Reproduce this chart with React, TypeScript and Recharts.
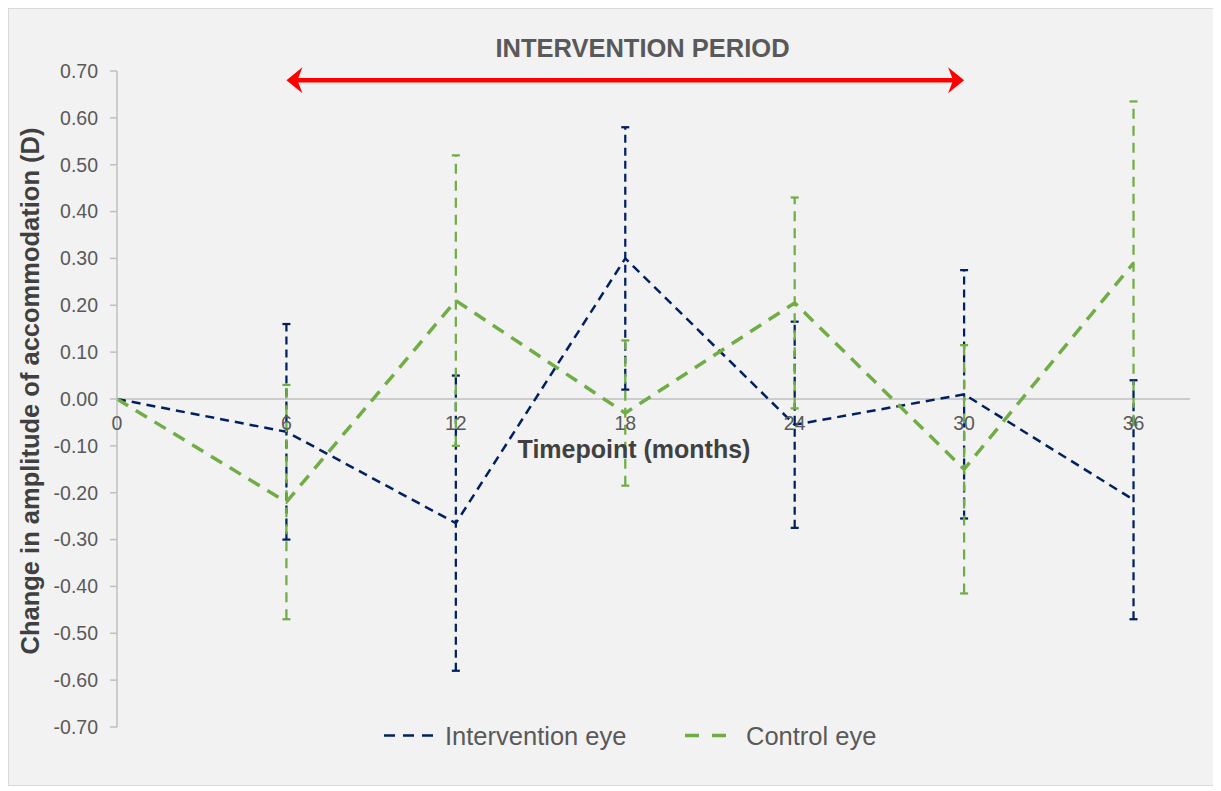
import React from "react"
import { LineChart, Line, XAxis, YAxis, ErrorBar, ReferenceLine } from "recharts"

const months = [0, 6, 12, 18, 24, 30, 36]
const interventionEye = [0, -0.07, -0.265, 0.3, -0.055, 0.01, -0.215]
const interventionErr = [null, 0.23, 0.315, 0.28, 0.22, 0.265, 0.255]
const controlEye = [0, -0.22, 0.21, -0.03, 0.205, -0.15, 0.29]
const controlErr = [null, 0.25, 0.31, 0.155, 0.225, 0.265, 0.345]
const yTicks = [-0.7, -0.6, -0.5, -0.4, -0.3, -0.2, -0.1, 0, 0.1, 0.2, 0.3, 0.4, 0.5, 0.6, 0.7]

const data = months.map((m, i) => ({
  month: m,
  intervention: interventionEye[i],
  interventionErr: interventionErr[i],
  control: controlEye[i],
  controlErr: controlErr[i],
}))

const W = 1207
const H = 778
const MARGIN = { top: 63, right: 25, bottom: 0, left: 0 }
const X_AXIS_H = 59
const PLOT_H = H - MARGIN.top - MARGIN.bottom - X_AXIS_H

const FONT = "'Liberation Sans', Arial, sans-serif"
const NAVY = "#002060"
const GREEN = "#70ad47"
const AXIS = "#bfbfbf"

// x tick labels sit just under the zero line, not at the bottom of the plot
const XTick = (props: any) => {
  const { x, y, payload } = props
  return (
    <text x={x} y={y - PLOT_H / 2 + 31} textAnchor="middle" fill="#595959" fontSize={19.5} fontFamily={FONT}>
      {payload.value}
    </text>
  )
}

const ArrowShape = (props: any) => {
  const { x1, y1, x2 } = props
  const y = y1
  return (
    <g>
      <line x1={x1 + 10} y1={y} x2={x2 - 10} y2={y} stroke="#ff0000" strokeWidth={4.5} />
      <polygon points={`${x1},${y} ${x1 + 16},${y - 13} ${x1 + 11},${y} ${x1 + 16},${y + 13}`} fill="#ff0000" />
      <polygon points={`${x2},${y} ${x2 - 16},${y - 13} ${x2 - 11},${y} ${x2 - 16},${y + 13}`} fill="#ff0000" />
    </g>
  )
}

export default function App() {
  return (
    <div
      style={{
        position: "relative",
        width: W,
        height: H,
        background: "#f2f2f2",
        boxShadow: "inset 0 0 0 1px #d9d9d9",
        fontFamily: FONT,
      }}
    >
      <LineChart width={W} height={H} data={data} margin={MARGIN}>
        <XAxis
          dataKey="month"
          type="number"
          domain={[0, 38]}
          ticks={months}
          interval={0}
          axisLine={false}
          tickLine={false}
          tickSize={0}
          tickMargin={0}
          height={X_AXIS_H}
          tick={XTick}
        />
        <YAxis
          type="number"
          domain={[-0.7, 0.7]}
          ticks={yTicks}
          interval={0}
          width={109}
          tickFormatter={(v: number) => v.toFixed(2)}
          tick={{ fill: "#595959", fontSize: 19.5, fontFamily: FONT }}
          axisLine={{ stroke: AXIS, strokeWidth: 1.5 }}
          tickLine={{ stroke: AXIS, strokeWidth: 1.5 }}
          tickSize={7}
          tickMargin={12}
        />
        <ReferenceLine y={0} stroke={AXIS} strokeWidth={1.5} />
        <ReferenceLine
          segment={[
            { x: 6, y: 0.68 },
            { x: 30, y: 0.68 },
          ]}
          shape={ArrowShape}
        />
        <Line
          type="linear"
          dataKey="intervention"
          stroke={NAVY}
          strokeWidth={2.5}
          strokeDasharray="9 6"
          dot={false}
          activeDot={false}
          isAnimationActive={false}
        >
          <ErrorBar dataKey="interventionErr" direction="y" width={4} stroke={NAVY} strokeWidth={2.25} strokeDasharray="8 5" />
        </Line>
        <Line
          type="linear"
          dataKey="control"
          stroke={GREEN}
          strokeWidth={3.5}
          strokeDasharray="13 9"
          dot={false}
          activeDot={false}
          isAnimationActive={false}
        >
          <ErrorBar dataKey="controlErr" direction="y" width={4} stroke={GREEN} strokeWidth={2.25} strokeDasharray="10 7" />
        </Line>
      </LineChart>

      <svg width={W} height={H} style={{ position: "absolute", left: 0, top: 0, pointerEvents: "none" }}>
        <text x={634.5} y={49} textAnchor="middle" fontWeight="bold" fontSize={25.5} fill="#595959" fontFamily={FONT}>
          INTERVENTION PERIOD
        </text>
        <text x={626} y={450} textAnchor="middle" fontWeight="bold" fontSize={25} fill="#404040" fontFamily={FONT}>
          Timepoint (months)
        </text>
        <text
          transform="translate(30.5,383) rotate(-90)"
          textAnchor="middle"
          fontWeight="bold"
          fontSize={25.5}
          fill="#404040"
          fontFamily={FONT}
        >
          Change in amplitude of accommodation (D)
        </text>
        <line x1={376} y1={727.5} x2={425} y2={727.5} stroke={NAVY} strokeWidth={2.5} strokeDasharray="11 8" />
        <text x={437} y={736.5} fontSize={25.5} fill="#595959" fontFamily={FONT}>
          Intervention eye
        </text>
        <line x1={677} y1={727.5} x2={718} y2={727.5} stroke={GREEN} strokeWidth={3.5} strokeDasharray="14 13" />
        <text x={738} y={736.5} fontSize={25.5} fill="#595959" fontFamily={FONT}>
          Control eye
        </text>
      </svg>
    </div>
  )
}
